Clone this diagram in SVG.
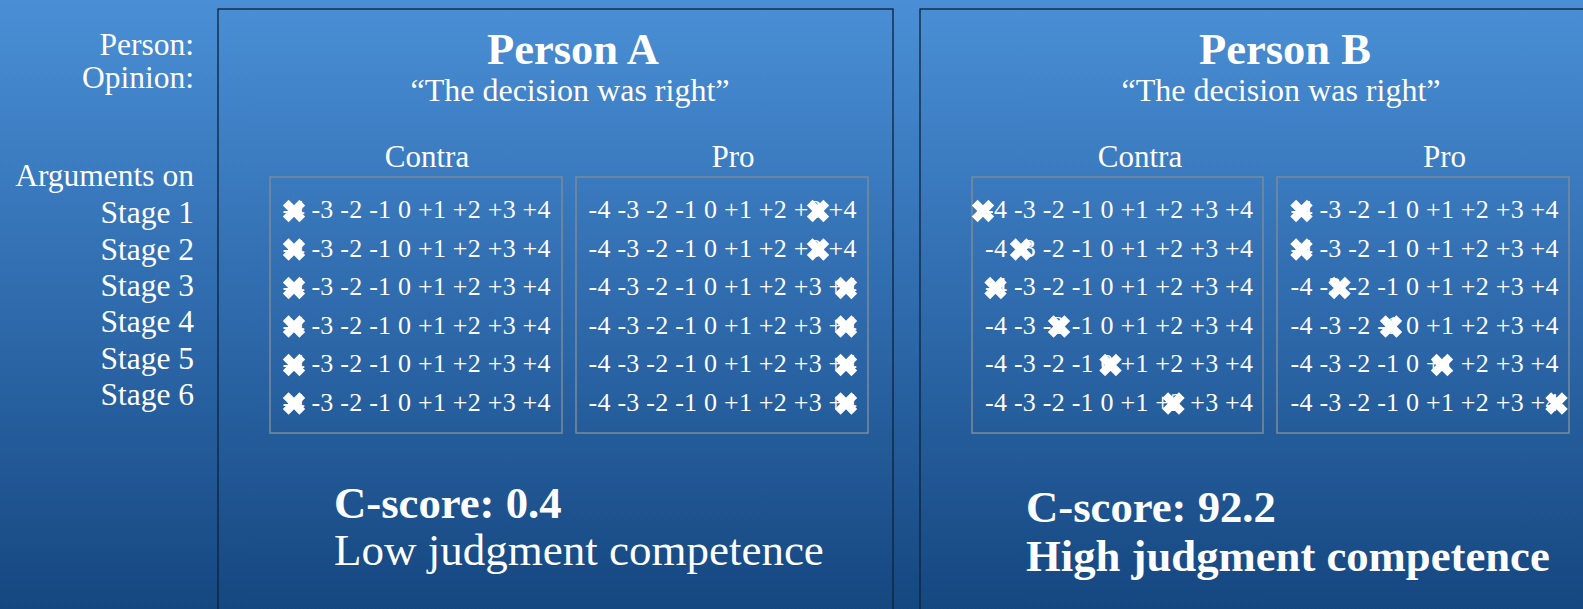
<svg xmlns="http://www.w3.org/2000/svg" xmlns:xlink="http://www.w3.org/1999/xlink" width="1583" height="609" viewBox="0 0 1583 609">
  <defs>
    <linearGradient id="bg" x1="0" y1="0" x2="0" y2="1">
      <stop offset="0" stop-color="#4a8fd6"/>
      <stop offset="0.5" stop-color="#2f6bad"/>
      <stop offset="1" stop-color="#154780"/>
    </linearGradient>
    <!-- heavy cross used to mark the chosen rating -->
    <g id="xm">
      <path d="M-8.3,-8.3 L8.3,8.3 M-8.3,8.3 L8.3,-8.3" stroke="#ffffff" stroke-width="8.2" stroke-linecap="butt" fill="none"/>
    </g>
  </defs>
  <style>
    .t { font-family: "Liberation Serif", "Times New Roman", serif; fill: #ffffff; }
    .lbl { font-size: 31.5px; text-anchor: end; }
    .title { font-size: 44.5px; font-weight: bold; text-anchor: middle; }
    .quote { font-size: 32px; text-anchor: middle; }
    .col { font-size: 31px; text-anchor: middle; }
    .num { font-size: 26px; }
    .score { font-size: 45px; }
    .b { font-weight: bold; font-size: 44.7px; }
    .panel { fill: none; stroke: #0f2238; stroke-width: 1.3; }
    .box { fill: none; stroke: #7d8b99; stroke-width: 1.5; }
  </style>

  <rect x="0" y="0" width="1583" height="609" fill="url(#bg)"/>

  <!-- row labels on the left -->
  <g id="row-labels">
    <text class="t lbl" x="194" y="55">Person:</text>
    <text class="t lbl" x="194" y="87.5">Opinion:</text>
    <text class="t lbl" x="194" y="186">Arguments on</text>
    <text class="t lbl" x="194" y="223">Stage 1</text>
    <text class="t lbl" x="194" y="259.5">Stage 2</text>
    <text class="t lbl" x="194" y="296">Stage 3</text>
    <text class="t lbl" x="194" y="332">Stage 4</text>
    <text class="t lbl" x="194" y="368.5">Stage 5</text>
    <text class="t lbl" x="194" y="404.5">Stage 6</text>
  </g>

  <!-- Person A -->
  <g id="person-a">
    <rect class="panel" x="218" y="9" width="675" height="620"/>
    <text class="t title" x="573" y="64">Person A</text>
    <text class="t quote" x="570" y="101">“The decision was right”</text>
    <text class="t col" x="427" y="167">Contra</text>
    <text class="t col" x="733" y="167">Pro</text>

    <g id="a-contra">
      <rect class="box" x="270" y="177" width="292" height="256"/>
      <g class="t num">
        <text x="282.5" y="218" textLength="268">-4 -3 -2 -1 0 +1 +2 +3 +4</text>
        <text x="282.5" y="256.5" textLength="268">-4 -3 -2 -1 0 +1 +2 +3 +4</text>
        <text x="282.5" y="295" textLength="268">-4 -3 -2 -1 0 +1 +2 +3 +4</text>
        <text x="282.5" y="333.5" textLength="268">-4 -3 -2 -1 0 +1 +2 +3 +4</text>
        <text x="282.5" y="372" textLength="268">-4 -3 -2 -1 0 +1 +2 +3 +4</text>
        <text x="282.5" y="410.5" textLength="268">-4 -3 -2 -1 0 +1 +2 +3 +4</text>
      </g>
      <use xlink:href="#xm" x="294" y="211"/>
      <use xlink:href="#xm" x="294" y="249.5"/>
      <use xlink:href="#xm" x="294" y="288"/>
      <use xlink:href="#xm" x="294" y="326.5"/>
      <use xlink:href="#xm" x="294" y="365"/>
      <use xlink:href="#xm" x="294" y="403.5"/>
    </g>

    <g id="a-pro">
      <rect class="box" x="576" y="177" width="292" height="256"/>
      <g class="t num">
        <text x="588.5" y="218" textLength="268">-4 -3 -2 -1 0 +1 +2 +3 +4</text>
        <text x="588.5" y="256.5" textLength="268">-4 -3 -2 -1 0 +1 +2 +3 +4</text>
        <text x="588.5" y="295" textLength="268">-4 -3 -2 -1 0 +1 +2 +3 +4</text>
        <text x="588.5" y="333.5" textLength="268">-4 -3 -2 -1 0 +1 +2 +3 +4</text>
        <text x="588.5" y="372" textLength="268">-4 -3 -2 -1 0 +1 +2 +3 +4</text>
        <text x="588.5" y="410.5" textLength="268">-4 -3 -2 -1 0 +1 +2 +3 +4</text>
      </g>
      <use xlink:href="#xm" x="818" y="211"/>
      <use xlink:href="#xm" x="818" y="249.5"/>
      <use xlink:href="#xm" x="846" y="288"/>
      <use xlink:href="#xm" x="846" y="326.5"/>
      <use xlink:href="#xm" x="846" y="365"/>
      <use xlink:href="#xm" x="846" y="403.5"/>
    </g>

    <text class="t score b" x="334" y="518">C-score: 0.4</text>
    <text class="t score" x="334" y="565">Low judgment competence</text>
  </g>

  <!-- Person B -->
  <g id="person-b">
    <rect class="panel" x="920" y="9" width="700" height="620"/>
    <text class="t title" x="1285" y="64">Person B</text>
    <text class="t quote" x="1281" y="101">“The decision was right”</text>
    <text class="t col" x="1140" y="167">Contra</text>
    <text class="t col" x="1444.5" y="167">Pro</text>

    <g id="b-contra">
      <rect class="box" x="972" y="177" width="291" height="256"/>
      <g class="t num">
        <text x="985" y="218" textLength="268">-4 -3 -2 -1 0 +1 +2 +3 +4</text>
        <text x="985" y="256.5" textLength="268">-4 -3 -2 -1 0 +1 +2 +3 +4</text>
        <text x="985" y="295" textLength="268">-4 -3 -2 -1 0 +1 +2 +3 +4</text>
        <text x="985" y="333.5" textLength="268">-4 -3 -2 -1 0 +1 +2 +3 +4</text>
        <text x="985" y="372" textLength="268">-4 -3 -2 -1 0 +1 +2 +3 +4</text>
        <text x="985" y="410.5" textLength="268">-4 -3 -2 -1 0 +1 +2 +3 +4</text>
      </g>
      <use xlink:href="#xm" x="983" y="211"/>
      <use xlink:href="#xm" x="1021" y="249.5"/>
      <use xlink:href="#xm" x="995.5" y="288"/>
      <use xlink:href="#xm" x="1059" y="326.5"/>
      <use xlink:href="#xm" x="1110.5" y="365"/>
      <use xlink:href="#xm" x="1173.5" y="403.5"/>
    </g>

    <g id="b-pro">
      <rect class="box" x="1277" y="177" width="292" height="256"/>
      <g class="t num">
        <text x="1290.5" y="218" textLength="268">-4 -3 -2 -1 0 +1 +2 +3 +4</text>
        <text x="1290.5" y="256.5" textLength="268">-4 -3 -2 -1 0 +1 +2 +3 +4</text>
        <text x="1290.5" y="295" textLength="268">-4 -3 -2 -1 0 +1 +2 +3 +4</text>
        <text x="1290.5" y="333.5" textLength="268">-4 -3 -2 -1 0 +1 +2 +3 +4</text>
        <text x="1290.5" y="372" textLength="268">-4 -3 -2 -1 0 +1 +2 +3 +4</text>
        <text x="1290.5" y="410.5" textLength="268">-4 -3 -2 -1 0 +1 +2 +3 +4</text>
      </g>
      <use xlink:href="#xm" x="1301.5" y="211"/>
      <use xlink:href="#xm" x="1301.5" y="249.5"/>
      <use xlink:href="#xm" x="1339.5" y="288"/>
      <use xlink:href="#xm" x="1391" y="326.5"/>
      <use xlink:href="#xm" x="1442" y="365"/>
      <use xlink:href="#xm" x="1556.5" y="403.5"/>
    </g>

    <text class="t score b" x="1026" y="522">C-score: 92.2</text>
    <text class="t score b" x="1026" y="571">High judgment competence</text>
  </g>
</svg>
